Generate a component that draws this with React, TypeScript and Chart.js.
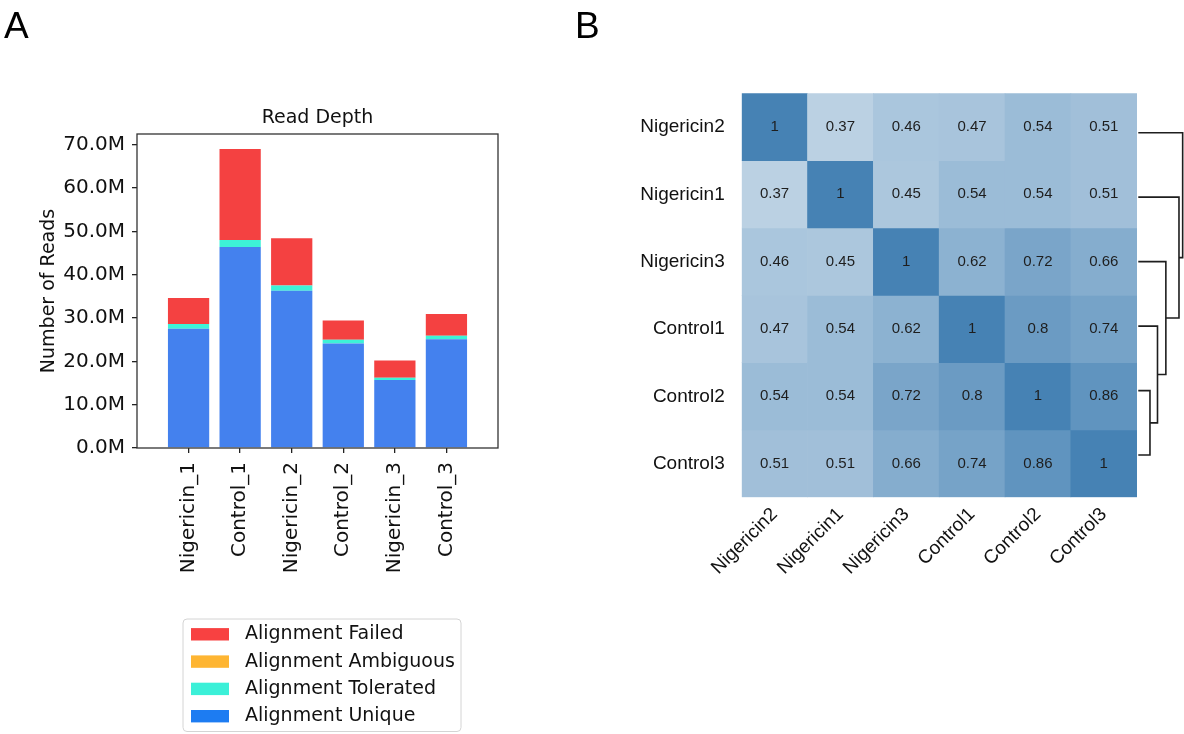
import React, { useEffect, useRef } from 'react';
import { Chart, registerables } from 'chart.js';

Chart.register(...registerables);

// ---------- Panel A data ----------
const samples = ['Nigericin_1', 'Control_1', 'Nigericin_2', 'Control_2', 'Nigericin_3', 'Control_3'];
const uniqueReads = [27.5, 46.4, 36.3, 24.1, 15.7, 25.1];
const toleratedReads = [1.1, 1.6, 1.2, 0.9, 0.5, 0.8];
const ambiguousReads = [0, 0, 0, 0, 0, 0];
const failedReads = [6.0, 21.0, 10.9, 4.4, 4.0, 5.0];
const readTicks = [0, 10, 20, 30, 40, 50, 60, 70];
const seriesNames = ['Alignment Unique', 'Alignment Tolerated', 'Alignment Ambiguous', 'Alignment Failed'];

// ---------- Panel B data ----------
const heatLabels = ['Nigericin2', 'Nigericin1', 'Nigericin3', 'Control1', 'Control2', 'Control3'];
const rowNigericin2 = [1, 0.37, 0.46, 0.47, 0.54, 0.51];
const rowNigericin1 = [0.37, 1, 0.45, 0.54, 0.54, 0.51];
const rowNigericin3 = [0.46, 0.45, 1, 0.62, 0.72, 0.66];
const rowControl1 = [0.47, 0.54, 0.62, 1, 0.8, 0.74];
const rowControl2 = [0.54, 0.54, 0.72, 0.8, 1, 0.86];
const rowControl3 = [0.51, 0.51, 0.66, 0.74, 0.86, 1];
const corrRows = [rowNigericin2, rowNigericin1, rowNigericin3, rowControl1, rowControl2, rowControl3];
// dendrogram linkage (node ids: leaves 0..5, merged clusters 6..)
const linkNodeA = [4, 3, 2, 1, 0];
const linkNodeB = [5, 6, 7, 8, 9];
const linkHeight = [0.14, 0.23, 0.33, 0.487, 0.531];

// ---------- styles ----------
const FONT_A = "'DejaVu Sans', sans-serif";
const FONT_B = "'Liberation Sans', Arial, sans-serif";
const seriesColors = ['#4481EE', '#3DF2D7', '#FFB534', '#F44141'];
const legendColors = ['#1D7CF2', '#3BF0D8', '#FEB532', '#F84141'];

function cellColor(v: number) {
  const r = Math.round(255 - (255 - 70) * v);
  const g = Math.round(255 - (255 - 130) * v);
  const b = Math.round(255 - (255 - 180) * v);
  return `rgb(${r},${g},${b})`;
}

const framePlugin = {
  id: 'frame',
  afterDraw(chart: any) {
    const { ctx, chartArea } = chart;
    ctx.save();
    ctx.strokeStyle = '#333';
    ctx.lineWidth = 1.3;
    ctx.strokeRect(chartArea.left, chartArea.top, chartArea.right - chartArea.left, chartArea.bottom - chartArea.top);
    ctx.restore();
  },
};

const boxLegendPlugin = {
  id: 'boxLegend',
  afterDraw(chart: any) {
    const { ctx } = chart;
    const ds = chart.data.datasets.slice().reverse();
    const colors = legendColors.slice().reverse();
    const left = 183, top = 619, width = 278, rowH = 27.3, firstRow = 15.3;
    const height = firstRow * 2 + rowH * (ds.length - 1);
    ctx.save();
    ctx.beginPath();
    const r = 4;
    ctx.moveTo(left + r, top);
    ctx.lineTo(left + width - r, top);
    ctx.arcTo(left + width, top, left + width, top + r, r);
    ctx.lineTo(left + width, top + height - r);
    ctx.arcTo(left + width, top + height, left + width - r, top + height, r);
    ctx.lineTo(left + r, top + height);
    ctx.arcTo(left, top + height, left, top + height - r, r);
    ctx.lineTo(left, top + r);
    ctx.arcTo(left, top, left + r, top, r);
    ctx.closePath();
    ctx.fillStyle = 'rgba(255,255,255,0.9)';
    ctx.fill();
    ctx.strokeStyle = '#d4d4d4';
    ctx.lineWidth = 1;
    ctx.stroke();
    ctx.font = `19px ${FONT_A}`;
    ctx.textBaseline = 'middle';
    ctx.textAlign = 'left';
    ds.forEach((d: any, i: number) => {
      const cy = top + firstRow + i * rowH;
      ctx.fillStyle = colors[i];
      ctx.fillRect(left + 8, cy - 6.2, 38, 12.4);
      ctx.fillStyle = '#111';
      ctx.fillText(d.label, left + 62, cy);
    });
    ctx.restore();
  },
};

const cellTextPlugin = {
  id: 'cellText',
  afterDatasetsDraw(chart: any) {
    const { ctx } = chart;
    const xs = chart.scales.x;
    const ys = chart.scales.y;
    ctx.save();
    ctx.font = `15px ${FONT_B}`;
    ctx.fillStyle = '#1e1e1e';
    ctx.textAlign = 'center';
    ctx.textBaseline = 'middle';
    corrRows.forEach((row, r) => {
      row.forEach((v, c) => {
        ctx.fillText(String(v), xs.getPixelForValue(c + 0.5), ys.getPixelForValue(r + 0.5));
      });
    });
    ctx.restore();
  },
};

function PanelA() {
  const ref = useRef<HTMLCanvasElement>(null);
  useEffect(() => {
    const toXY = (arr: number[]) => arr.map((v, i) => ({ x: i, y: v }));
    const values = [uniqueReads, toleratedReads, ambiguousReads, failedReads];
    const chart = new Chart(ref.current as HTMLCanvasElement, {
      type: 'bar',
      data: {
        datasets: values.map((vals, k) => ({
          label: seriesNames[k],
          data: toXY(vals),
          backgroundColor: seriesColors[k],
          borderWidth: 0,
          categoryPercentage: 1,
          barPercentage: 0.8,
        })) as any,
      },
      options: {
        responsive: false,
        animation: false,
        layout: { padding: { top: 107, right: 62, left: 0, bottom: 0 } },
        plugins: {
          legend: { display: false },
          tooltip: { enabled: false },
          title: {
            display: true,
            text: 'Read Depth',
            fullSize: false,
            color: '#111',
            font: { family: FONT_A, size: 19, weight: 'normal' },
            padding: { top: 0, bottom: 4.2 },
          },
        },
        scales: {
          x: {
            type: 'linear',
            stacked: true,
            offset: false,
            min: -1,
            max: 6,
            afterBuildTicks: (s: any) => {
              s.ticks = samples.map((_, i) => ({ value: i }));
            },
            afterFit: (s: any) => {
              s.height = 286;
            },
            ticks: {
              autoSkip: false,
              minRotation: 90,
              maxRotation: 90,
              padding: 9,
              color: '#111',
              font: { family: FONT_A, size: 20 },
              callback: (_v: any, i: number) => samples[i],
            },
            grid: { drawOnChartArea: false, drawTicks: true, tickLength: 5, color: '#222', lineWidth: 1.3, offset: false },
            border: { display: false },
          },
          y: {
            type: 'linear',
            stacked: true,
            min: 0,
            max: 72.45,
            afterBuildTicks: (s: any) => {
              s.ticks = readTicks.map((v) => ({ value: v }));
            },
            afterFit: (s: any) => {
              s.width = 137;
            },
            ticks: {
              padding: 7,
              color: '#111',
              font: { family: FONT_A, size: 20 },
              callback: (v: any) => Number(v).toFixed(1) + 'M',
            },
            grid: { drawOnChartArea: false, drawTicks: true, tickLength: 5, color: '#222', lineWidth: 1.3 },
            border: { display: false },
            title: {
              display: true,
              text: 'Number of Reads',
              color: '#111',
              font: { family: FONT_A, size: 19 },
              padding: { top: 38, bottom: 0 },
            },
          },
        },
      } as any,
      plugins: [framePlugin, boxLegendPlugin],
    });
    return () => chart.destroy();
  }, []);
  return <canvas ref={ref} width={560} height={734} style={{ position: 'absolute', left: 0, top: 0, width: 560, height: 734 }} />;
}

function PanelB() {
  const ref = useRef<HTMLCanvasElement>(null);
  useEffect(() => {
    // node positions (leaf order index) and heights for the dendrogram
    const nodePos: number[] = heatLabels.map((_, i) => i);
    const nodeH: number[] = heatLabels.map(() => 0);
    linkNodeA.forEach((a, k) => {
      const b = linkNodeB[k];
      nodePos.push((nodePos[a] + nodePos[b]) / 2);
      nodeH.push(linkHeight[k]);
    });
    const cellSets = corrRows.map((row, r) => ({
      type: 'bar',
      label: heatLabels[r],
      data: row.map((_v, c) => ({ x: c + 0.5, y: [r, r + 1] })),
      backgroundColor: row.map((v) => cellColor(v)),
      borderWidth: 0,
      grouped: false,
      categoryPercentage: 1,
      barPercentage: 1,
      xAxisID: 'x',
      yAxisID: 'y',
    }));
    const linkSets = linkNodeA.map((a, k) => {
      const b = linkNodeB[k];
      const h = linkHeight[k];
      return {
        type: 'line',
        label: 'link' + k,
        data: [
          { x: nodeH[a], y: nodePos[a] },
          { x: h, y: nodePos[a] },
          { x: h, y: nodePos[b] },
          { x: nodeH[b], y: nodePos[b] },
        ],
        borderColor: '#1e1e1e',
        borderWidth: 1.6,
        pointRadius: 0,
        fill: false,
        tension: 0,
        clip: false,
        xAxisID: 'x2',
        yAxisID: 'y2',
      };
    });
    const chart = new Chart(ref.current as HTMLCanvasElement, {
      type: 'bar',
      data: { datasets: [...cellSets, ...linkSets] as any },
      options: {
        responsive: false,
        animation: false,
        layout: { padding: { top: 93.3, right: 0, left: 0, bottom: 0 } },
        plugins: { legend: { display: false }, tooltip: { enabled: false }, title: { display: false } },
        scales: {
          x: {
            type: 'linear',
            offset: false,
            min: 0,
            max: 6.719,
            afterBuildTicks: (s: any) => {
              s.ticks = heatLabels.map((_, i) => ({ value: i + 0.5 }));
            },
            afterFit: (s: any) => {
              s.height = 236.7;
            },
            ticks: {
              autoSkip: false,
              minRotation: 45,
              maxRotation: 45,
              padding: 6,
              color: '#111',
              font: { family: FONT_B, size: 19 },
              callback: (_v: any, i: number) => heatLabels[i],
            },
            grid: { display: false, drawTicks: false, offset: false },
            border: { display: false },
          },
          y: {
            type: 'linear',
            reverse: true,
            min: 0,
            max: 6,
            afterBuildTicks: (s: any) => {
              s.ticks = heatLabels.map((_, i) => ({ value: i + 0.5 }));
            },
            afterFit: (s: any) => {
              s.width = 161.7;
            },
            ticks: {
              padding: 17,
              color: '#111',
              font: { family: FONT_B, size: 19 },
              callback: (_v: any, i: number) => heatLabels[i],
            },
            grid: { display: false, drawTicks: false },
            border: { display: false },
          },
          x2: { type: 'linear', display: false, min: -4.744, max: 0.547, offset: false },
          y2: { type: 'linear', display: false, reverse: true, min: -0.611, max: 5.655 },
        },
      } as any,
      plugins: [cellTextPlugin],
    });
    return () => chart.destroy();
  }, []);
  return <canvas ref={ref} width={604} height={734} style={{ position: 'absolute', left: 580, top: 0, width: 604, height: 734 }} />;
}

export default function App() {
  const letter: React.CSSProperties = {
    position: 'absolute',
    fontFamily: FONT_B,
    fontSize: 37,
    lineHeight: '37px',
    color: '#000',
    top: 7,
  };
  return (
    <div style={{ position: 'fixed', left: 0, top: 0, width: 1184, height: 734, background: '#fff', overflow: 'hidden' }}>
      <PanelA />
      <PanelB />
      <div style={{ ...letter, left: 4 }}>A</div>
      <div style={{ ...letter, left: 575 }}>B</div>
    </div>
  );
}
